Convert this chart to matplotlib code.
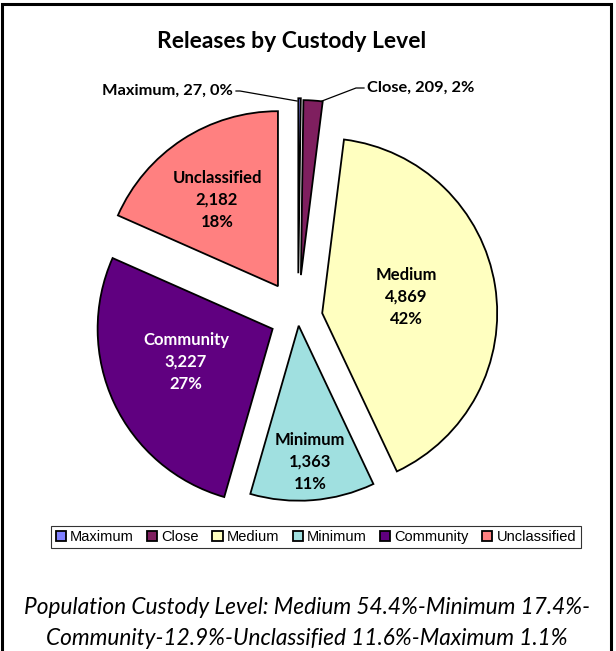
import matplotlib.pyplot as plt
from matplotlib.patches import Rectangle

# data
levels = ['Maximum', 'Close', 'Medium', 'Minimum', 'Community', 'Unclassified']
releases = [27, 209, 4869, 1363, 3227, 2182]
pct_labels = [0, 2, 42, 11, 27, 18]
colors = ['#8080FF', '#7F1F5F', '#FFFFC0', '#A0E0E0', '#600080', '#FF8080']
explode = [0.25, 0.24, 0.14, 0.05, 0.16, 0.21]
caption = ('Population Custody Level: Medium 54.4%-Minimum 17.4%-\n'
           'Community-12.9%-Unclassified 11.6%-Maximum 1.1%')

W, H = 616, 651
fig = plt.figure(figsize=(W / 100, H / 100), dpi=100)
ax = fig.add_axes([0, 0, 1, 1])

cx, cy, r = 298, H - 317, 175
# explode in pie() is absolute, so scale by radius
wedges, _ = ax.pie(releases, colors=colors, explode=[e * r for e in explode],
                   startangle=90, counterclock=False, center=(cx, cy), radius=r,
                   frame=True, wedgeprops=dict(edgecolor='black', linewidth=1.3))
ax.set_xlim(0, W)
ax.set_ylim(0, H)
ax.set_aspect('equal')
ax.axis('off')

lab = dict(fontfamily='Lato', fontweight='bold', fontsize=12, ha='center',
           va='center', linespacing=1.45)
inside = {2: (406, 297, 'black'), 3: (310, 462, 'black'),
          4: (186, 362, 'white'), 5: (217, 200, 'black')}
for i, (x, y, c) in inside.items():
    ax.text(x, H - y, f'{levels[i]}\n{releases[i]:,}\n{pct_labels[i]}%', color=c, **lab)

# outside labels for the two small slices
for i, (tx, ty, ha, pts) in {
        0: (233, 91, 'right', [(236, 91), (240, 91), (297, 101)]),
        1: (367, 88, 'left', [(364, 88), (356, 88), (322, 101)])}.items():
    ax.text(tx, H - ty, f'{levels[i]}, {releases[i]:,}, {pct_labels[i]}%',
            fontfamily='Lato', fontweight='bold', fontsize=11.8,
            ha=ha, va='center')
    ax.plot([p[0] for p in pts], [H - p[1] for p in pts], color='black', lw=0.9)

ax.text(292, H - 42, 'Releases by Custody Level', fontfamily='Lato',
        fontweight='bold', fontsize=16.5, ha='center', va='center')

leg = ax.legend(wedges, levels, loc='center', bbox_to_anchor=(316 / W, 1 - 537 / H),
                ncol=6, frameon=True, fancybox=False, edgecolor='black',
                prop=dict(family='Liberation Sans', size=10.5),
                handlelength=0.7, handleheight=0.7, handletextpad=0.3,
                columnspacing=0.9, borderpad=0.3, borderaxespad=0)
leg.get_frame().set_linewidth(0.8)

ax.text(307, H - 623, caption, fontfamily='Lato', fontstyle='italic',
        fontsize=16.3, ha='center', va='center', linespacing=1.6)

ax.add_patch(Rectangle((2, -10), 609, H - 2 + 10 - 2, fill=False,
                       edgecolor='black', lw=2.2, clip_on=False))

fig.savefig('out.png', dpi=100)
